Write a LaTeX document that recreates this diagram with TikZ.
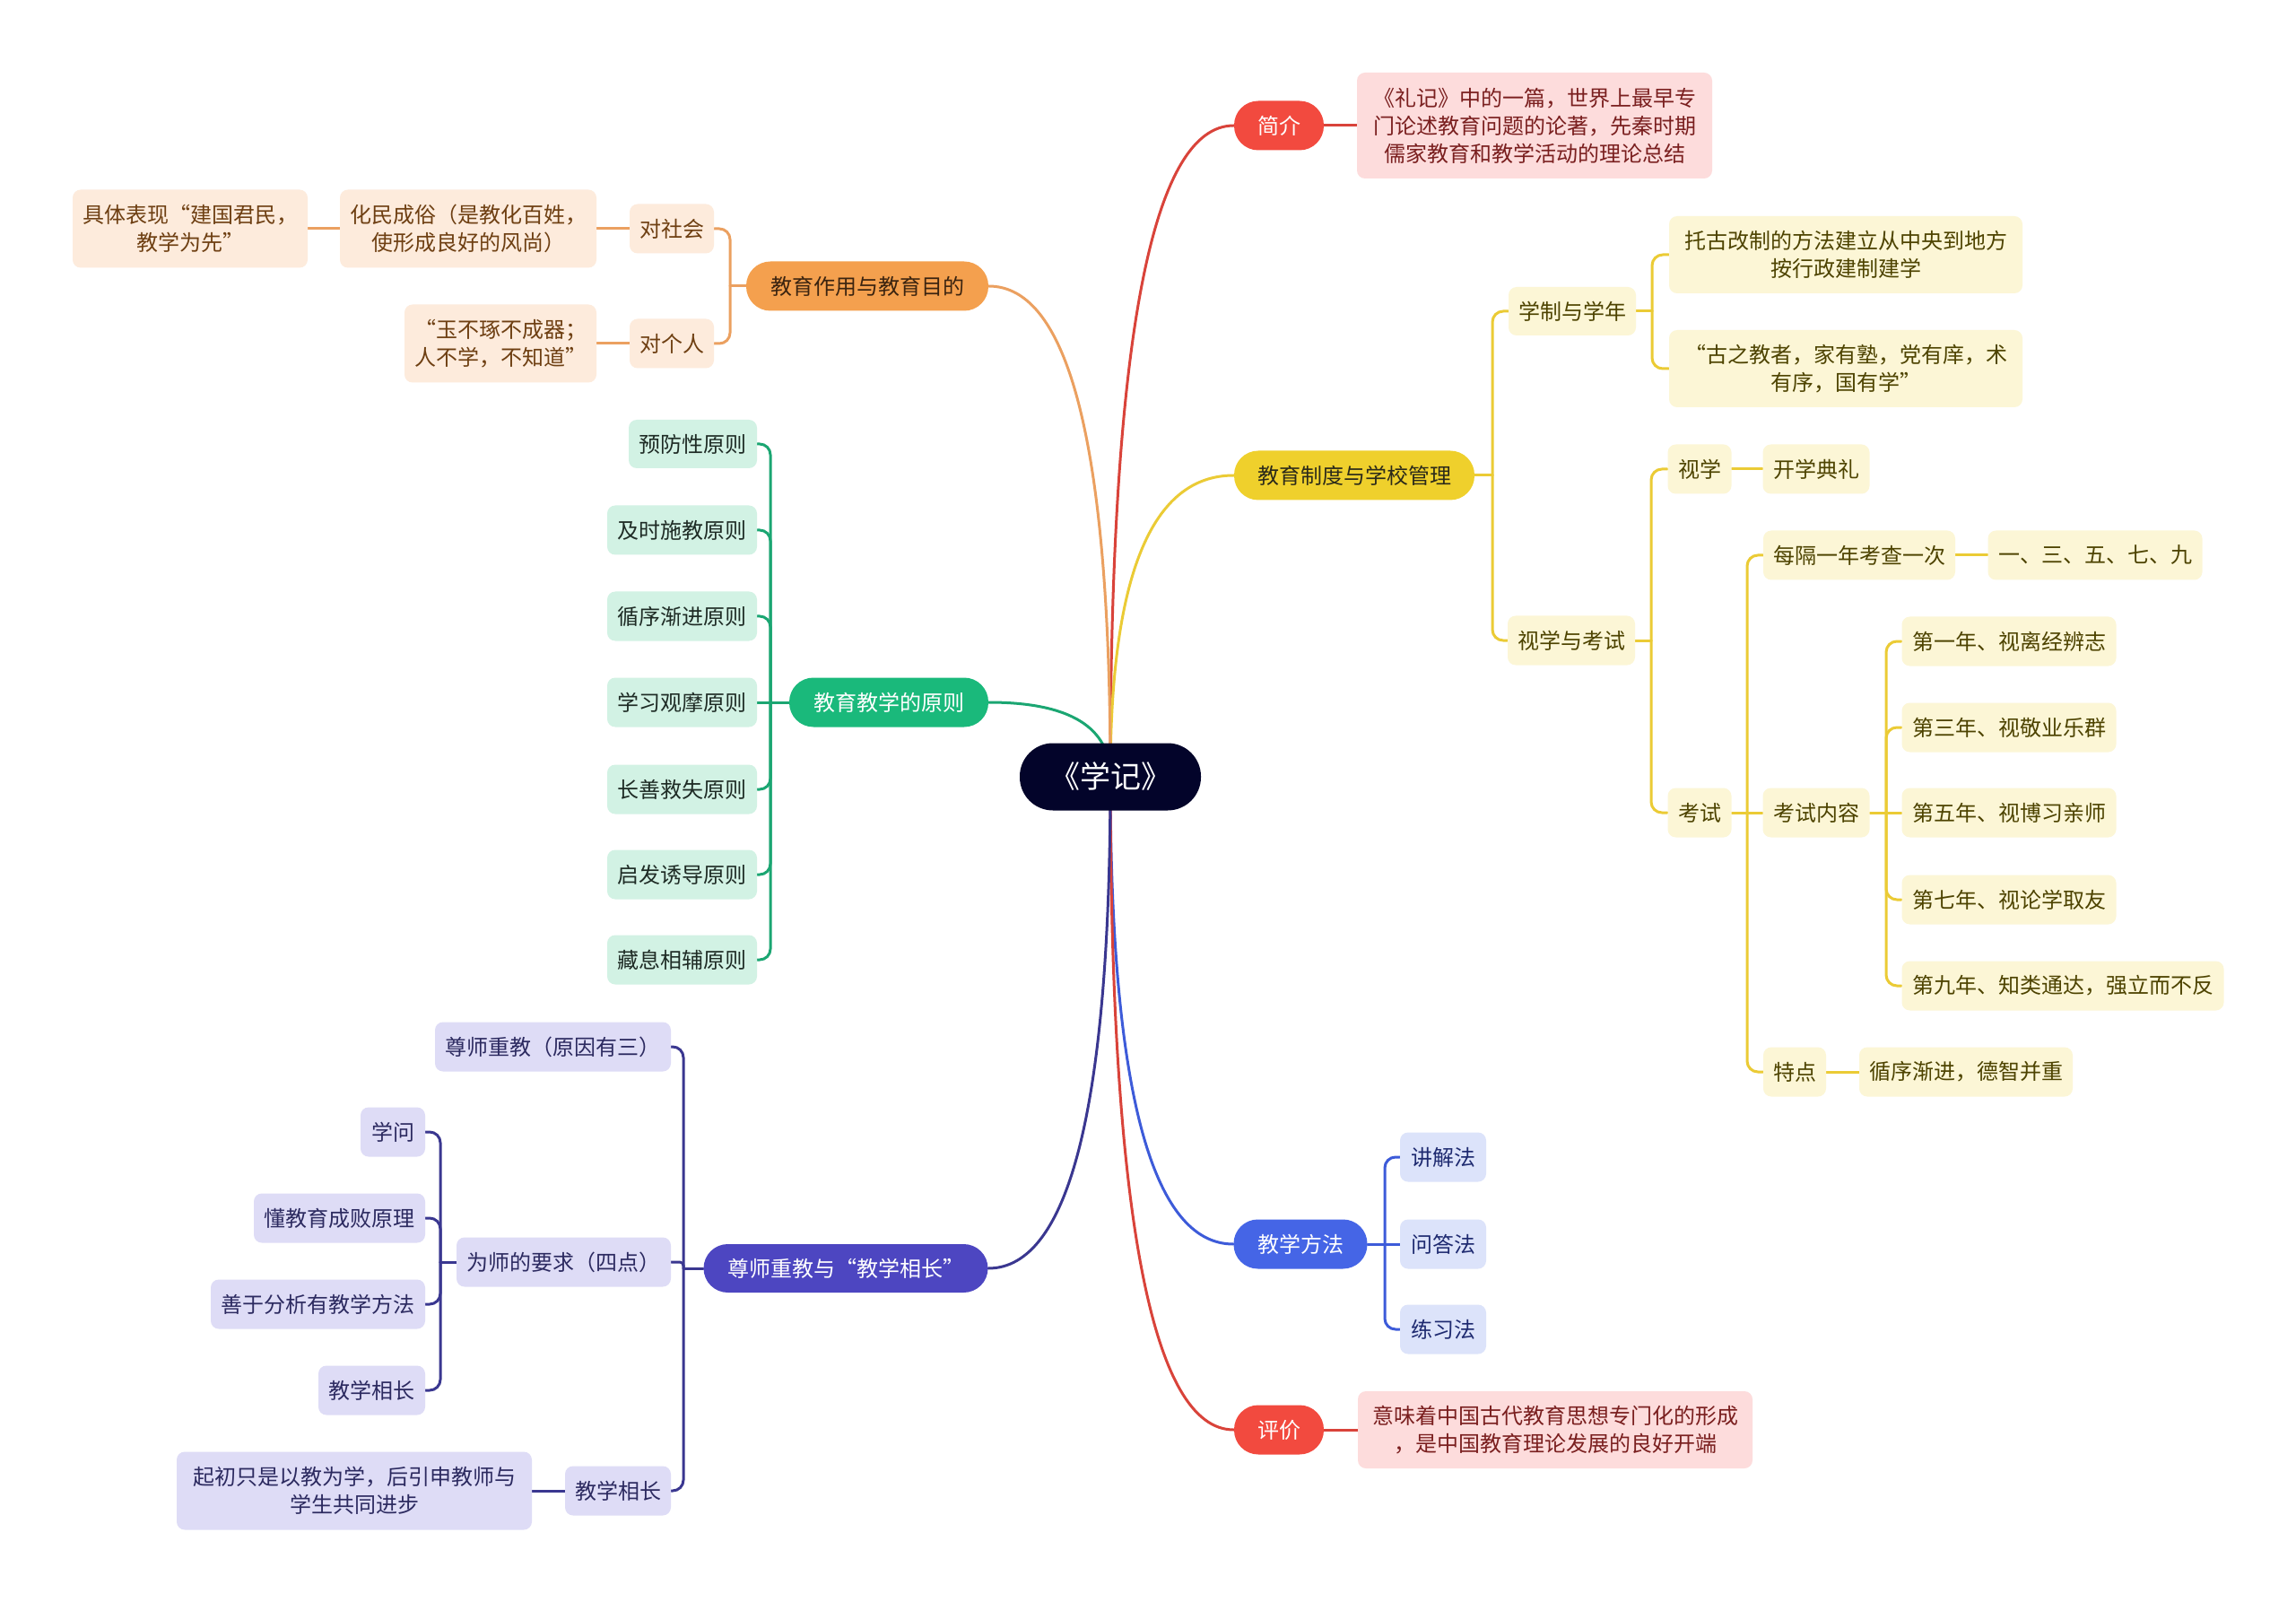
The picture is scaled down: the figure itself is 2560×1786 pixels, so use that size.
\documentclass[tikz,border=0pt]{standalone}
\usepackage{fontspec}
\setmainfont{Noto Sans CJK SC}
\usetikzlibrary{calc}
\pgfdeclarelayer{bg}
\pgfsetlayers{bg,main}
\definecolor{rootc}{HTML}{03042A}
\definecolor{redm}{HTML}{F24A3F}
\definecolor{redl}{HTML}{D9433A}
\definecolor{redf}{HTML}{FDDCDC}
\definecolor{redt}{HTML}{7A1F1F}
\definecolor{yelm}{HTML}{EFD02C}
\definecolor{yell}{HTML}{EBCB35}
\definecolor{yelf}{HTML}{FCF6D6}
\definecolor{yelt}{HTML}{4D4300}
\definecolor{yelmt}{HTML}{2B2A1A}
\definecolor{orm}{HTML}{F4A04E}
\definecolor{orl}{HTML}{EBA060}
\definecolor{orf}{HTML}{FDEBDC}
\definecolor{ort}{HTML}{6E3F12}
\definecolor{ormt}{HTML}{3B2410}
\definecolor{grm}{HTML}{1AB97B}
\definecolor{grl}{HTML}{1BA672}
\definecolor{grf}{HTML}{D2F2E4}
\definecolor{grt}{HTML}{1E2B25}
\definecolor{blm}{HTML}{4565E6}
\definecolor{bll}{HTML}{3D5BD9}
\definecolor{blf}{HTML}{DCE3FA}
\definecolor{blt}{HTML}{1E2A70}
\definecolor{pum}{HTML}{4D46C1}
\definecolor{pul}{HTML}{3A3790}
\definecolor{puf}{HTML}{DEDCF6}
\definecolor{put}{HTML}{2C2A60}
\newcommand\rootlink[2]{\draw[#1] (root.center) .. controls ($(root.center)!0.667!(root.center |- #2)$) and ($(#2)!0.667!(root.center |- #2)$) .. (#2);}
\newcommand\rlink[3]{\draw[#1, rounded corners=6pt] (#2) |- (#3.west);}
\newcommand\llink[3]{\draw[#1, rounded corners=6pt] (#2) |- (#3.east);}
\tikzset{
  base/.style={inner sep=0pt, align=center, font=\fontsize{12pt}{15.5pt}\selectfont},
  sz/.style 2 args={minimum width={#1*0.5pt}, minimum height={#2*0.5pt}},
  pill/.style={base, rounded corners=13.5pt},
  leaf/.style={base, rounded corners=4.5pt},
  rootn/.style={base, fill=rootc, text=white, rounded corners=18.5pt, font=\fontsize{17pt}{20pt}\selectfont},
  rm/.style={pill, fill=redm, text=white},
  ym/.style={pill, fill=yelm, text=yelmt},
  om/.style={pill, fill=orm, text=ormt},
  gm/.style={pill, fill=grm, text=white},
  bm/.style={pill, fill=blm, text=white},
  pm/.style={pill, fill=pum, text=white},
  rc/.style={leaf, fill=redf, text=redt},
  yc/.style={leaf, fill=yelf, text=yelt},
  oc/.style={leaf, fill=orf, text=ort},
  gc/.style={leaf, fill=grf, text=grt},
  bc/.style={leaf, fill=blf, text=blt},
  pc/.style={leaf, fill=puf, text=put},
  lnk/.style={line width=1.5pt, line cap=round},
  rline/.style={lnk, draw=redl},
  yline/.style={lnk, draw=yell},
  oline/.style={lnk, draw=orl},
  gline/.style={lnk, draw=grl},
  bline/.style={lnk, draw=bll},
  pline/.style={lnk, draw=pul},
}
\begin{document}
\begin{tikzpicture}[x=0.5pt, y=-0.5pt]
\useasboundingbox (0,0) rectangle (2560,1786);
% root
\node[rootn, sz={202}{75}] (root) at (1238,866) {《学记》};
% right side
\node[rm, sz={100}{55}] (ji) at (1426,140) {简介};
\node[rc, sz={396}{118}] (jiT) at (1711,140) {《礼记》中的一篇，世界上最早专\\门论述教育问题的论著，先秦时期\\儒家教育和教学活动的理论总结};
\node[ym, sz={268}{55}] (zd) at (1510,530) {教育制度与学校管理};
\node[yc, sz={142}{54}] (xz) at (1753,347) {学制与学年};
\node[yc, sz={394}{86}] (xz1) at (2058,284) {托古改制的方法建立从中央到地方\\按行政建制建学};
\node[yc, sz={394}{86}] (xz2) at (2058,411) {“古之教者，家有塾，党有庠，术\\有序，国有学”};
\node[yc, sz={142}{55}] (sk) at (1752,714) {视学与考试};
\node[yc, sz={71}{55}] (sx) at (1895,523) {视学};
\node[yc, sz={119}{55}] (kl) at (2025,523) {开学典礼};
\node[yc, sz={71}{55}] (ks) at (1895,906) {考试};
\node[yc, sz={214}{55}] (mg) at (2073,619) {每隔一年考查一次};
\node[yc, sz={239}{55}] (yi) at (2336,619) {一、三、五、七、九};
\node[yc, sz={119}{55}] (nr) at (2025,906) {考试内容};
\node[yc, sz={239}{55}] (y1) at (2240,715) {第一年、视离经辨志};
\node[yc, sz={239}{55}] (y3) at (2240,811) {第三年、视敬业乐群};
\node[yc, sz={239}{55}] (y5) at (2240,906) {第五年、视博习亲师};
\node[yc, sz={239}{55}] (y7) at (2240,1003) {第七年、视论学取友};
\node[yc, sz={359}{55}] (y9) at (2300,1099) {第九年、知类通达，强立而不反};
\node[yc, sz={70}{55}] (td) at (2001,1195) {特点};
\node[yc, sz={238}{55}] (xj) at (2192,1195) {循序渐进，德智并重};
\node[bm, sz={149}{55}] (ff) at (1450,1387) {教学方法};
\node[bc, sz={96}{55}] (f1) at (1609,1290) {讲解法};
\node[bc, sz={96}{55}] (f2) at (1609,1387) {问答法};
\node[bc, sz={96}{55}] (f3) at (1609,1482) {练习法};
\node[rm, sz={100}{55}] (pj) at (1426,1594) {评价};
\node[rc, sz={440}{86}] (pjT) at (1734,1594) {意味着中国古代教育思想专门化的形成\\，是中国教育理论发展的良好开端};
% left side
\node[om, sz={270}{55}] (zy) at (967,319) {教育作用与教育目的};
\node[oc, sz={94}{55}] (ds) at (749,255) {对社会};
\node[oc, sz={286}{87}] (hm) at (522,255) {化民成俗（是教化百姓，\\使形成良好的风尚）};
\node[oc, sz={262}{87}] (jt) at (212,255) {具体表现“建国君民，\\教学为先”};
\node[oc, sz={94}{55}] (dr) at (749,383) {对个人};
\node[oc, sz={214}{87}] (yb) at (558,383) {“玉不琢不成器；\\人不学，不知道”};
\node[gm, sz={222}{55}] (yz) at (991,783) {教育教学的原则};
\node[gc, sz={143}{54}] (p1) at (772.5,495) {预防性原则};
\node[gc, sz={167}{55}] (p2) at (760.5,591) {及时施教原则};
\node[gc, sz={167}{55}] (p3) at (760.5,687) {循序渐进原则};
\node[gc, sz={167}{55}] (p4) at (760.5,783) {学习观摩原则};
\node[gc, sz={167}{55}] (p5) at (760.5,880) {长善救失原则};
\node[gc, sz={167}{55}] (p6) at (760.5,975) {启发诱导原则};
\node[gc, sz={167}{55}] (p7) at (760.5,1070) {藏息相辅原则};
\node[pm, sz={317}{54}] (zs) at (943,1414) {尊师重教与“教学相长”};
\node[pc, sz={263}{55}] (a1) at (616.5,1167) {尊师重教（原因有三）};
\node[pc, sz={239}{55}] (a2) at (628.5,1407) {为师的要求（四点）};
\node[pc, sz={72}{55}] (b1) at (438,1262) {学问};
\node[pc, sz={191}{55}] (b2) at (378.5,1358) {懂教育成败原理};
\node[pc, sz={239}{55}] (b3) at (354.5,1454) {善于分析有教学方法};
\node[pc, sz={119}{55}] (b4) at (414.5,1550) {教学相长};
\node[pc, sz={118}{55}] (a3) at (689,1662) {教学相长};
\node[pc, sz={396}{87}] (c1) at (395,1662) {起初只是以教为学，后引申教师与\\学生共同进步};
% bracket points
\coordinate (bzd) at (1664,530);
\coordinate (bxz) at (1842,347);
\coordinate (bsk) at (1841,714);
\coordinate (bks) at (1948,906);
\coordinate (bnr) at (2103,906);
\coordinate (bff) at (1544,1387);
\coordinate (bzy) at (814,319);
\coordinate (byz) at (859,783);
\coordinate (bzs) at (762,1414);
\coordinate (ba2) at (491,1407);
\begin{pgfonlayer}{bg}
\fill[white] (0,0) rectangle (2560,1786);
\rootlink{rline}{ji.west}
\rootlink{yline}{zd.west}
\rootlink{bline}{ff.west}
\rootlink{rline}{pj.west}
\rootlink{oline}{zy.east}
\rootlink{gline}{yz.east}
\rootlink{pline}{zs.east}
% red
\draw[rline] (ji.east) -- (jiT.west);
\draw[rline] (pj.east) -- (pjT.west);
% yellow
\draw[yline] (zd.east) -- (bzd);
\rlink{yline}{bzd}{xz}
\rlink{yline}{bzd}{sk}
\draw[yline] (xz.east) -- (bxz);
\rlink{yline}{bxz}{xz1}
\rlink{yline}{bxz}{xz2}
\draw[yline] (sk.east) -- (bsk);
\rlink{yline}{bsk}{sx}
\rlink{yline}{bsk}{ks}
\draw[yline] (sx.east) -- (kl.west);
\draw[yline] (ks.east) -- (nr.west);
\rlink{yline}{bks}{mg}
\rlink{yline}{bks}{td}
\draw[yline] (mg.east) -- (yi.west);
\draw[yline] (td.east) -- (xj.west);
\draw[yline] (nr.east) -- (y5.west);
\rlink{yline}{bnr}{y1}
\rlink{yline}{bnr}{y3}
\rlink{yline}{bnr}{y7}
\rlink{yline}{bnr}{y9}
% blue
\draw[bline] (ff.east) -- (f2.west);
\rlink{bline}{bff}{f1}
\rlink{bline}{bff}{f3}
% orange
\draw[oline] (zy.west) -- (bzy);
\llink{oline}{bzy}{ds}
\llink{oline}{bzy}{dr}
\draw[oline] (ds.west) -- (hm.east);
\draw[oline] (hm.west) -- (jt.east);
\draw[oline] (dr.west) -- (yb.east);
% green
\draw[gline] (yz.west) -- (p4.east);
\llink{gline}{byz}{p1}
\llink{gline}{byz}{p2}
\llink{gline}{byz}{p3}
\llink{gline}{byz}{p5}
\llink{gline}{byz}{p6}
\llink{gline}{byz}{p7}
% purple
\draw[pline] (zs.west) -- (bzs);
\llink{pline}{bzs}{a1}
\draw[pline, rounded corners=2pt] (bzs) |- (a2.east);
\llink{pline}{bzs}{a3}
\draw[pline] (a2.west) -- (ba2);
\llink{pline}{ba2}{b1}
\llink{pline}{ba2}{b2}
\llink{pline}{ba2}{b3}
\llink{pline}{ba2}{b4}
\draw[pline] (a3.west) -- (c1.east);
\end{pgfonlayer}
\end{tikzpicture}
\end{document}
